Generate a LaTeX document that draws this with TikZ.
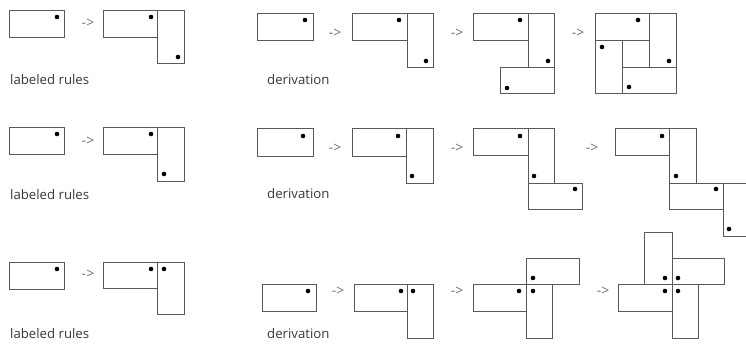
\documentclass[tikz,border=0pt]{standalone}
\usepackage{fontspec}
\setmainfont{Open Sans}
\begin{document}
\begin{tikzpicture}[x=1pt,y=-1pt,
  rbox/.style={draw=black!65,line width=0.9pt},
  dot/.style={fill=black,draw=none},
  arr/.style={text=black!55,font=\fontsize{14}{15}\selectfont,inner sep=0pt},
  lbl/.style={text=black!78,font=\fontsize{13.2}{15}\selectfont,anchor=west,inner sep=0pt}]
\useasboundingbox (0,0) rectangle (746,345);
\fill[white] (0,0) rectangle (746,345);
\clip (0,0) rectangle (746,345);
\def\dotr{2.3}
% ---------- Row 1 ----------
\draw[rbox] (9,10) rectangle (64,37);
\fill[dot] (57,17) circle (\dotr);
\node[arr] (a11) at (88,23) {-{}>};
\draw[rbox] (103,10) rectangle (157,37);
\draw[rbox] (157,10) rectangle (184,63);
\fill[dot] (151,17) circle (\dotr);
\fill[dot] (178,57) circle (\dotr);
\node[lbl] (t11) at (10,80) {labeled rules};
\draw[rbox] (257,13) rectangle (313,40);
\fill[dot] (305,20) circle (\dotr);
\node[arr] (a12) at (335,33) {-{}>};
\draw[rbox] (352,13) rectangle (407,40);
\draw[rbox] (407,13) rectangle (433,67);
\fill[dot] (399,20) circle (\dotr);
\fill[dot] (426,61) circle (\dotr);
\node[arr] (a13) at (457,33) {-{}>};
\draw[rbox] (473,13) rectangle (528,40);
\draw[rbox] (528,13) rectangle (554,67);
\draw[rbox] (500,67) rectangle (554,93);
\fill[dot] (520,20) circle (\dotr);
\fill[dot] (548,61) circle (\dotr);
\fill[dot] (507,88) circle (\dotr);
\node[arr] (a14) at (578,33) {-{}>};
\draw[rbox] (595,13) rectangle (649,40);
\draw[rbox] (649,13) rectangle (676,67);
\draw[rbox] (622,67) rectangle (676,93);
\draw[rbox] (595,40) rectangle (622,93);
\fill[dot] (638,20) circle (\dotr);
\fill[dot] (669,61) circle (\dotr);
\fill[dot] (629,87) circle (\dotr);
\fill[dot] (602,47) circle (\dotr);
\node[lbl] (t12) at (267,80) {derivation};
% ---------- Row 2 ----------
\draw[rbox] (9,127) rectangle (64,154);
\fill[dot] (57,134) circle (\dotr);
\node[arr] (a21) at (88,141) {-{}>};
\draw[rbox] (103,127) rectangle (157,154);
\draw[rbox] (157,127) rectangle (184,181);
\fill[dot] (151,134) circle (\dotr);
\fill[dot] (164,174) circle (\dotr);
\node[lbl] (t21) at (10,195) {labeled rules};
\draw[rbox] (257,128) rectangle (313,156);
\fill[dot] (303,136) circle (\dotr);
\node[arr] (a22) at (335,148) {-{}>};
\draw[rbox] (352,128) rectangle (406,156);
\draw[rbox] (406,128) rectangle (433,183);
\fill[dot] (398,136) circle (\dotr);
\fill[dot] (412,176) circle (\dotr);
\node[arr] (a23) at (457,148) {-{}>};
\draw[rbox] (473,128) rectangle (528,155);
\draw[rbox] (528,128) rectangle (554,183);
\draw[rbox] (528,183) rectangle (582,209);
\fill[dot] (520,136) circle (\dotr);
\fill[dot] (534,176) circle (\dotr);
\fill[dot] (575,189) circle (\dotr);
\node[arr] (a24) at (592,148) {-{}>};
\draw[rbox] (615,128) rectangle (669,155);
\draw[rbox] (669,128) rectangle (696,183);
\draw[rbox] (669,183) rectangle (723,209);
\draw[rbox] (723,183) rectangle (750,236);
\fill[dot] (662,136) circle (\dotr);
\fill[dot] (676,176) circle (\dotr);
\fill[dot] (716,189) circle (\dotr);
\fill[dot] (729,229) circle (\dotr);
\node[lbl] (t22) at (267,194) {derivation};
% ---------- Row 3 ----------
\draw[rbox] (9,262) rectangle (64,289);
\fill[dot] (57,269) circle (\dotr);
\node[arr] (a31) at (88,274) {-{}>};
\draw[rbox] (103,262) rectangle (157,288);
\draw[rbox] (157,262) rectangle (184,314);
\fill[dot] (151,269) circle (\dotr);
\fill[dot] (164,269) circle (\dotr);
\node[lbl] (t31) at (10,334) {labeled rules};
\draw[rbox] (262,284) rectangle (316,311);
\fill[dot] (308,291) circle (\dotr);
\node[arr] (a32) at (338,291) {-{}>};
\draw[rbox] (354,284) rectangle (407,311);
\draw[rbox] (407,284) rectangle (433,338);
\fill[dot] (401,291) circle (\dotr);
\fill[dot] (413,291) circle (\dotr);
\node[arr] (a33) at (457,291) {-{}>};
\draw[rbox] (473,284) rectangle (526,311);
\draw[rbox] (526,284) rectangle (552,338);
\draw[rbox] (526,258) rectangle (579,284);
\fill[dot] (533,278) circle (\dotr);
\fill[dot] (519,291) circle (\dotr);
\fill[dot] (533,291) circle (\dotr);
\node[arr] (a34) at (603,291) {-{}>};
\draw[rbox] (618,284) rectangle (672,311);
\draw[rbox] (672,284) rectangle (698,338);
\draw[rbox] (672,258) rectangle (724,284);
\draw[rbox] (644,232) rectangle (672,284);
\fill[dot] (665,278) circle (\dotr);
\fill[dot] (678,278) circle (\dotr);
\fill[dot] (665,291) circle (\dotr);
\fill[dot] (678,291) circle (\dotr);
\node[lbl] (t32) at (267,334) {derivation};
\end{tikzpicture}
\end{document}
